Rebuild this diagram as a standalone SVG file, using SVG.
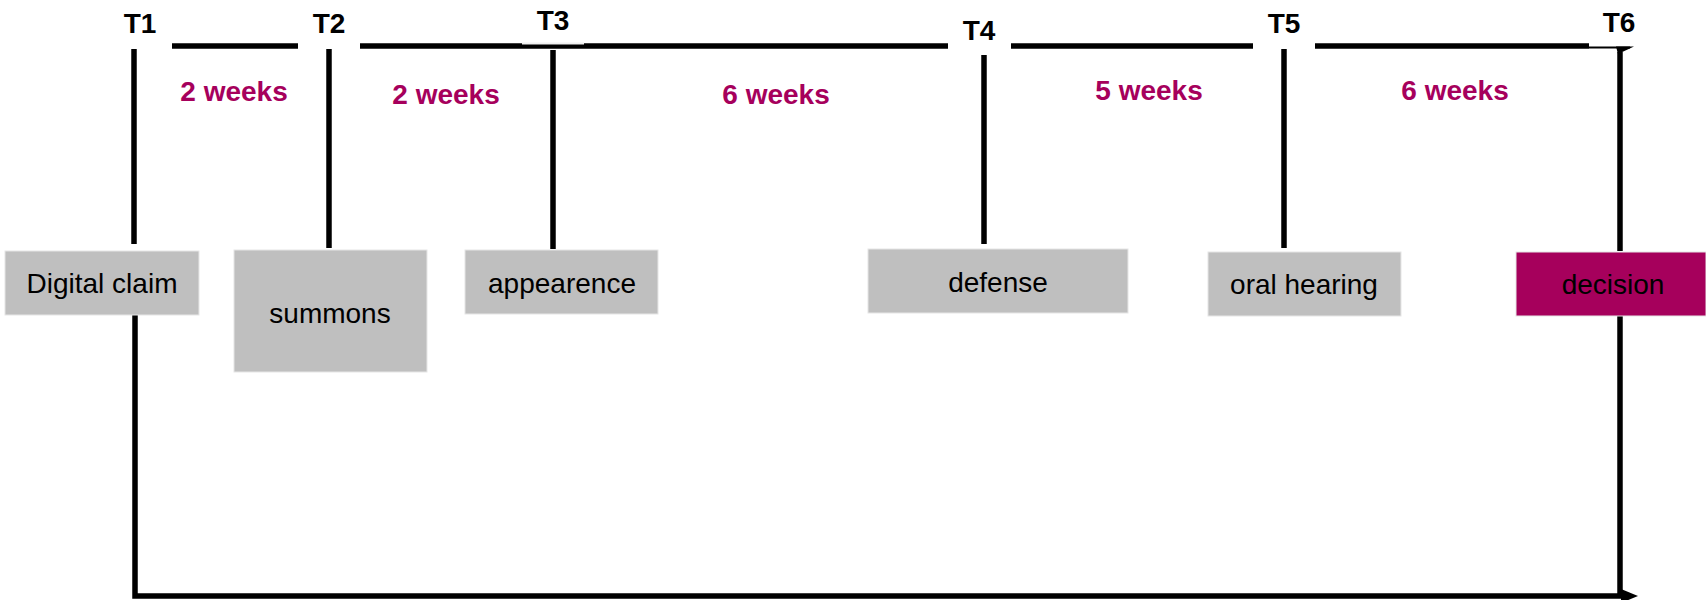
<svg xmlns="http://www.w3.org/2000/svg" width="1706" height="600" viewBox="0 0 1706 600">
<defs>
<style>
.ln{stroke:#000;stroke-width:5.5;fill:none}
.box{fill:#BFBFBF;stroke:#E6E6E6;stroke-width:1}
.dec{fill:#A6005C;stroke:#E6E6E6;stroke-width:1}
.bt{font-family:"Liberation Sans",Arial,sans-serif;font-size:28px;fill:#000;text-anchor:middle}
.tl{font-family:"Liberation Sans",Arial,sans-serif;font-size:28px;font-weight:bold;fill:#000;text-anchor:middle}
.wk{font-family:"Liberation Sans",Arial,sans-serif;font-size:28px;font-weight:bold;fill:#A6005C;text-anchor:middle}
</style>
<marker id="arr" markerUnits="userSpaceOnUse" markerWidth="18" markerHeight="14" refX="0" refY="7" orient="auto">
<path d="M0,0 L17,7 L0,14 z" fill="#000"/>
</marker>
</defs>
<rect width="1706" height="600" fill="#fff"/>
<g id="connectors">
<path class="ln" d="M172,46 H298"/>
<path class="ln" d="M360,46 H948"/>
<rect x="522" y="42.5" width="62" height="2" fill="#f0f0f0"/>
<path class="ln" d="M1011,46 H1253"/>
<path class="ln" d="M1315,46 H1589"/>
<path d="M1589,47.5 H1630" stroke="#000" stroke-width="2" fill="none"/>
<polygon points="1616,46.5 1634,46.5 1618,54" fill="#000"/>
<path class="ln" d="M134,49 V244"/>
<path class="ln" d="M329,49 V248"/>
<path class="ln" d="M553,50 V249"/>
<path class="ln" d="M984,55 V244"/>
<path class="ln" d="M1284,49 V248"/>
<path class="ln" d="M1620,52 V251"/>
<path class="ln" d="M135,313 V596 H1621" marker-end="url(#arr)"/>
<path class="ln" d="M1620,316 V596"/>
</g>
<g id="labels">
<text class="tl" x="140" y="33">T1</text>
<text class="tl" x="329" y="33">T2</text>
<text class="tl" x="553" y="30">T3</text>
<text class="tl" x="979" y="40">T4</text>
<text class="tl" x="1284" y="33">T5</text>
<text class="tl" x="1619" y="32">T6</text>
<text class="wk" x="234" y="101">2 weeks</text>
<text class="wk" x="446" y="104">2 weeks</text>
<text class="wk" x="776" y="104">6 weeks</text>
<text class="wk" x="1149" y="100">5 weeks</text>
<text class="wk" x="1455" y="100">6 weeks</text>
</g>
<g id="node-digital-claim">
<rect class="box" x="5" y="251" width="194" height="64"/>
<text class="bt" x="102" y="293">Digital claim</text>
</g>
<g id="node-summons">
<rect class="box" x="234" y="250" width="193" height="122"/>
<text class="bt" x="330" y="323">summons</text>
</g>
<g id="node-appearence">
<rect class="box" x="465" y="250" width="193" height="64"/>
<text class="bt" x="562" y="293">appearence</text>
</g>
<g id="node-defense">
<rect class="box" x="868" y="249" width="260" height="64"/>
<text class="bt" x="998" y="292">defense</text>
</g>
<g id="node-oral-hearing">
<rect class="box" x="1208" y="252" width="193" height="64"/>
<text class="bt" x="1304" y="294">oral hearing</text>
</g>
<g id="node-decision">
<rect class="dec" x="1516" y="252" width="190" height="64"/>
<text class="bt" x="1613" y="294">decision</text>
</g>
</svg>
